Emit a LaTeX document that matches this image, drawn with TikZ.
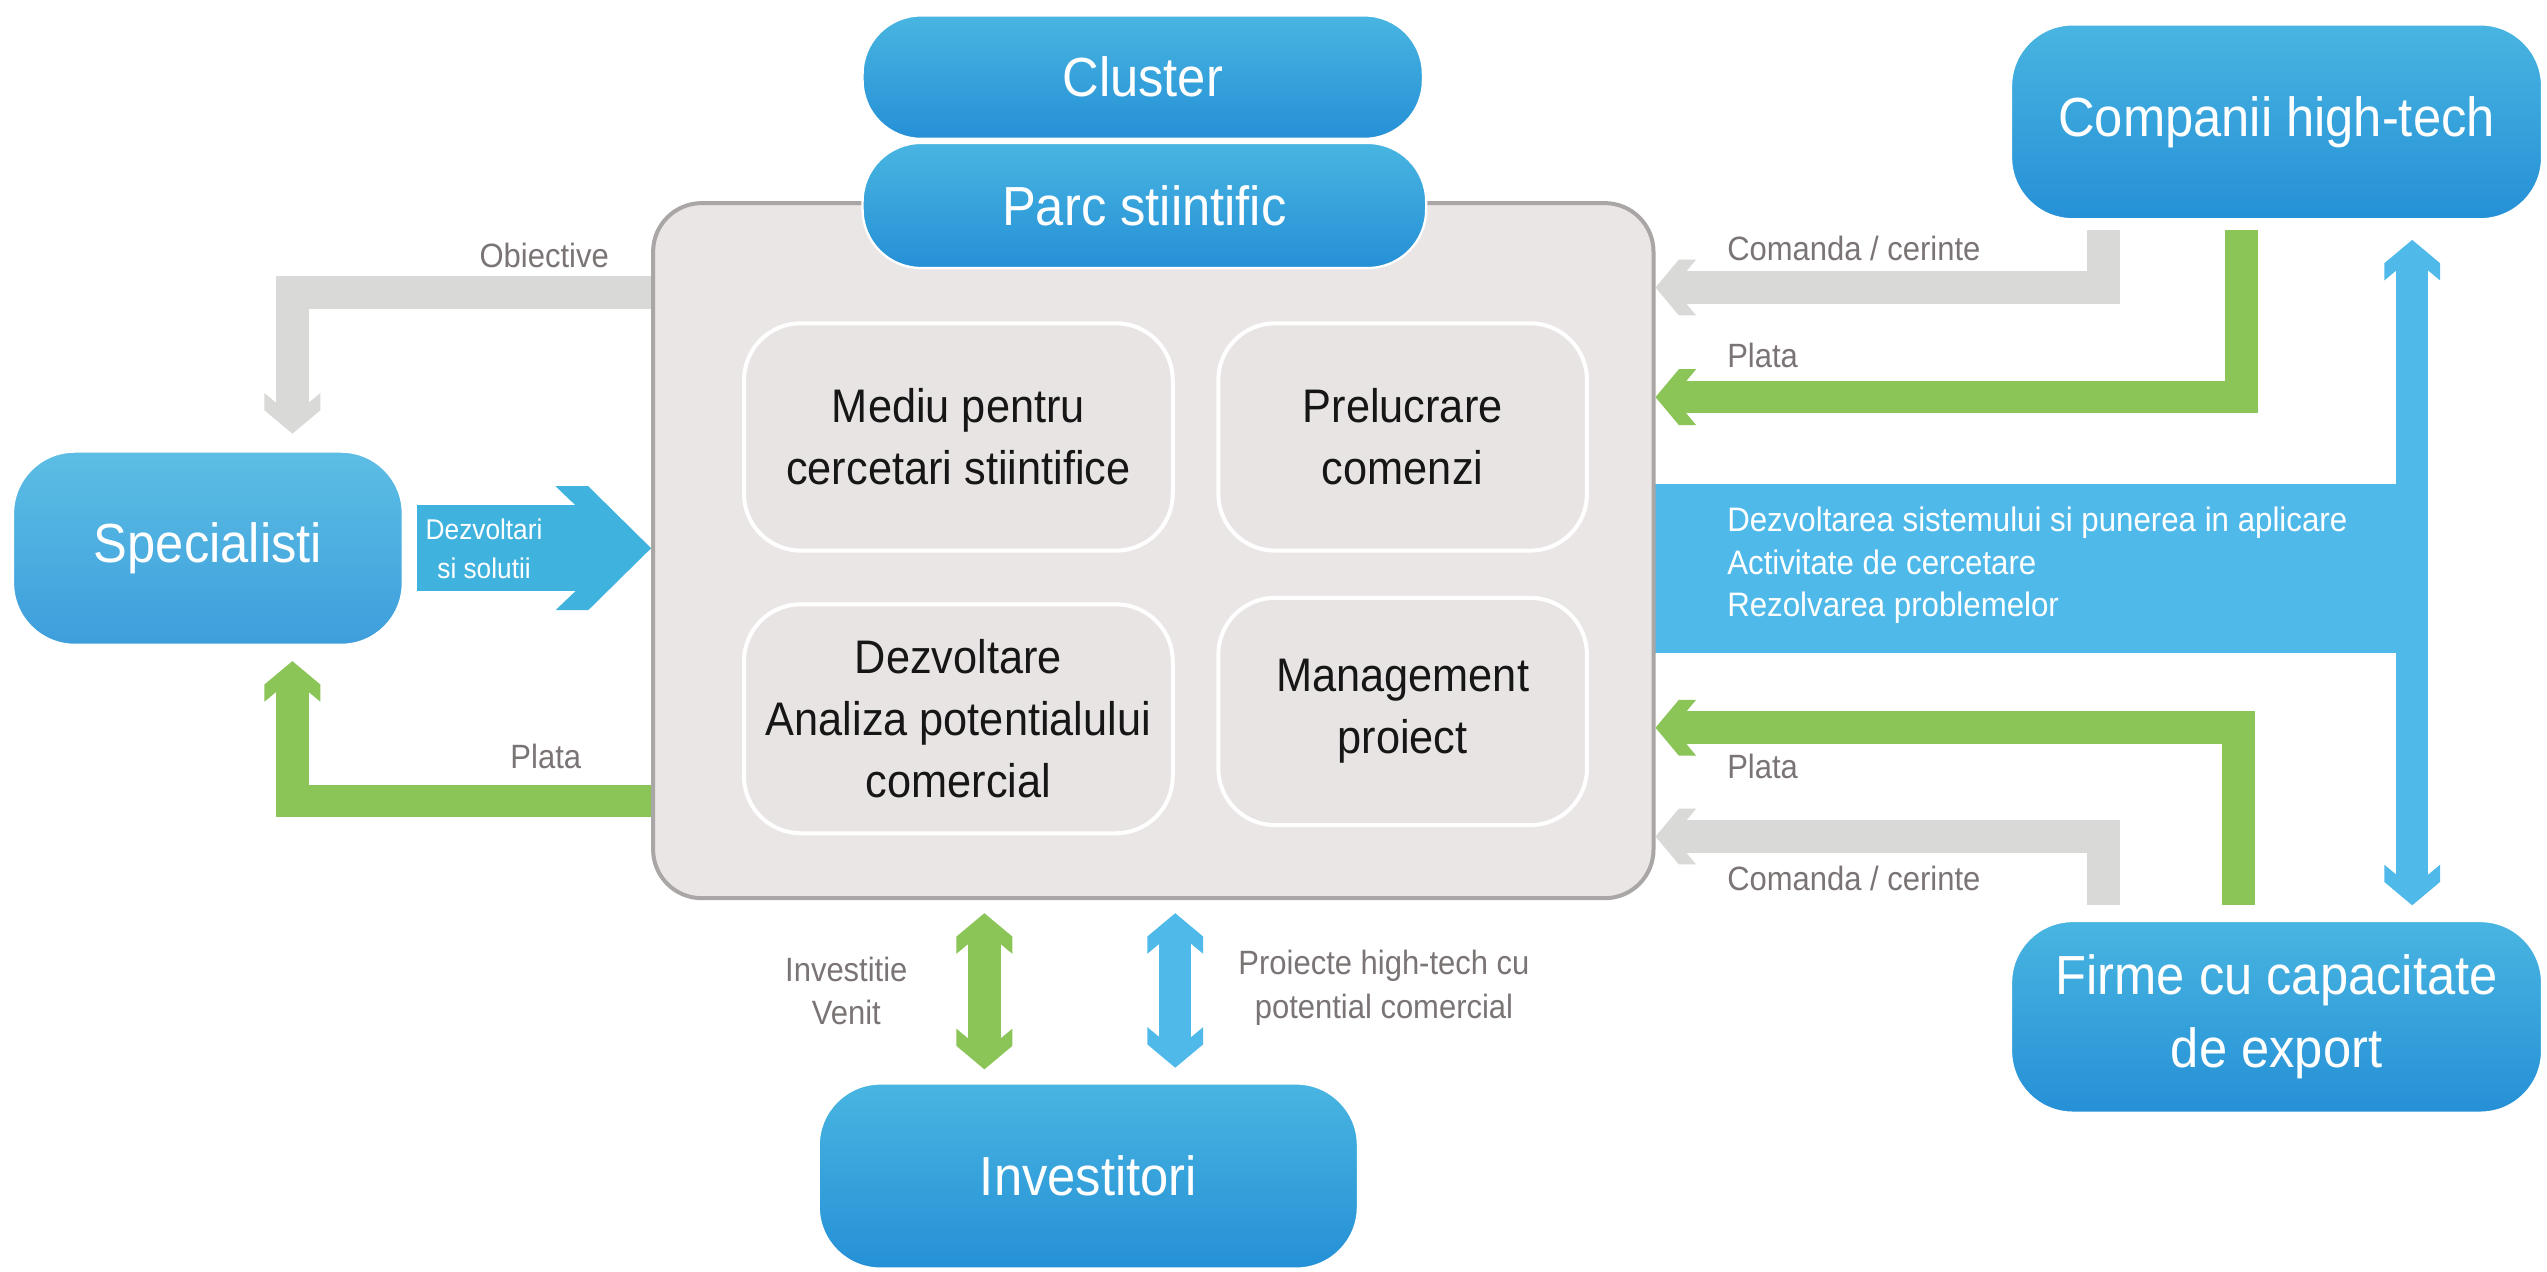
\documentclass[tikz,border=0pt]{standalone}
\usepackage{fontspec}
\setmainfont{Liberation Sans}[FakeStretch=0.92]
\usetikzlibrary{backgrounds}

\definecolor{boxtop}{HTML}{48B5E1}
\definecolor{boxbot}{HTML}{2590D6}
\definecolor{spectop}{HTML}{5CBEE4}
\definecolor{specbot}{HTML}{3D9EDC}
\definecolor{panel}{HTML}{EAE6E5}
\definecolor{paneledge}{HTML}{A9A6A5}
\definecolor{cellfill}{HTML}{E8E4E3}
\definecolor{arrgray}{HTML}{D9D9D7}
\definecolor{arrgreen}{HTML}{8BC457}
\definecolor{arrblue}{HTML}{4FB9EA}
\definecolor{solblue}{HTML}{40B2DE}
\definecolor{lblgray}{HTML}{7A7574}
\definecolor{celltext}{HTML}{161616}

\newcommand\fbig{\fontsize{19.3pt}{25.5pt}\selectfont}
\newcommand\fcell{\fontsize{16.5pt}{21.8pt}\selectfont}
\newcommand\flabel{\fontsize{11.8pt}{15.3pt}\selectfont}
\newcommand\fband{\fontsize{11.9pt}{15pt}\selectfont}
\newcommand\fsmall{\fontsize{10pt}{13.6pt}\selectfont}

% arrow head with swept-back barbs, sized from the line width
\pgfdeclarearrow{
  name = Barb,
  setup code = {
    \pgfarrowssettipend{0pt}
    \pgfarrowssetlineend{-0.9\pgflinewidth}
    \pgfarrowssetbackend{-1.25\pgflinewidth}
    \pgfarrowssetvisualbackend{-0.95\pgflinewidth}
    \pgfarrowssavethe\pgflinewidth
  },
  drawing code = {
    \pgfpathmoveto{\pgfqpoint{0pt}{0pt}}
    \pgfpathlineto{\pgfqpoint{-0.72\pgflinewidth}{0.86\pgflinewidth}}
    \pgfpathlineto{\pgfqpoint{-1.25\pgflinewidth}{0.86\pgflinewidth}}
    \pgfpathlineto{\pgfqpoint{-0.95\pgflinewidth}{0.5\pgflinewidth}}
    \pgfpathlineto{\pgfqpoint{-0.95\pgflinewidth}{-0.5\pgflinewidth}}
    \pgfpathlineto{\pgfqpoint{-1.25\pgflinewidth}{-0.86\pgflinewidth}}
    \pgfpathlineto{\pgfqpoint{-0.72\pgflinewidth}{-0.86\pgflinewidth}}
    \pgfpathclose
    \pgfusepathqfill
  }
}
% broad variant for the wide block arrow
\pgfdeclarearrow{
  name = BarbWide,
  setup code = {
    \pgfarrowssettipend{0pt}
    \pgfarrowssetlineend{-0.83\pgflinewidth}
    \pgfarrowssetbackend{-1.11\pgflinewidth}
    \pgfarrowssetvisualbackend{-0.88\pgflinewidth}
    \pgfarrowssavethe\pgflinewidth
  },
  drawing code = {
    \pgfpathmoveto{\pgfqpoint{0pt}{0pt}}
    \pgfpathlineto{\pgfqpoint{-0.73\pgflinewidth}{0.72\pgflinewidth}}
    \pgfpathlineto{\pgfqpoint{-1.11\pgflinewidth}{0.72\pgflinewidth}}
    \pgfpathlineto{\pgfqpoint{-0.88\pgflinewidth}{0.5\pgflinewidth}}
    \pgfpathlineto{\pgfqpoint{-0.88\pgflinewidth}{-0.5\pgflinewidth}}
    \pgfpathlineto{\pgfqpoint{-1.11\pgflinewidth}{-0.72\pgflinewidth}}
    \pgfpathlineto{\pgfqpoint{-0.73\pgflinewidth}{-0.72\pgflinewidth}}
    \pgfpathclose
    \pgfusepathqfill
  }
}

\tikzset{
  bluebox/.style={rounded corners=0.76cm, top color=boxtop, bottom color=boxbot,
    draw=white, line width=0.8pt, text=white, font=\fbig, align=center, inner sep=0pt},
  pill/.style={bluebox, rounded corners=0.72cm},
  specbox/.style={bluebox, top color=spectop, bottom color=specbot},
  panelbox/.style={draw=paneledge, fill=panel, line width=1.4pt, rounded corners=0.6cm, inner sep=0pt},
  cell/.style={draw=white, fill=cellfill, line width=1.4pt, rounded corners=0.7cm,
    text=celltext, font=\fcell, align=center, inner sep=0pt},
  lbl/.style={text=lblgray, font=\flabel, inner sep=0pt, align=center},
  flow/.style={line width=0.4cm, line join=miter, -{Barb}},
  grayflow/.style={flow, color=arrgray},
  greenflow/.style={flow, color=arrgreen},
  blueflow/.style={flow, color=arrblue},
}

\begin{document}
\begin{tikzpicture}[x=0.02cm, y=-0.02cm]
\useasboundingbox (0,0) rectangle (1568,783);

% central panel with its four activity cells
\node[panelbox, minimum width=12.32cm, minimum height=8.56cm] (main) at (710,339) {};
\node[cell, minimum width=5.28cm, minimum height=2.8cm] (mediu) at (590,269)
  {Mediu pentru\\cercetari stiintifice};
\node[cell, minimum width=4.54cm, minimum height=2.8cm] (prel) at (863.5,269)
  {Prelucrare\\comenzi};
\node[cell, minimum width=5.28cm, minimum height=2.82cm] (dezv) at (590,442.5)
  {Dezvoltare\\Analiza potentialului\\comercial};
\node[cell, minimum width=4.54cm, minimum height=2.8cm] (mgmt) at (863.5,438)
  {Management\\proiect};

% title pills
\node[pill, minimum width=6.9cm, minimum height=1.52cm] (cluster) at (703.5,47.5) {Cluster};
\node[pill, minimum width=6.94cm, minimum height=1.54cm] (parc) at (704.5,126.5) {Parc stiintific};

% partner boxes
\node[specbox, minimum width=4.8cm, minimum height=2.38cm] (spec) at (128,337.5) {Specialisti};
\node[bluebox, minimum width=6.54cm, minimum height=2.4cm] (comp) at (1401.5,75) {Companii high-tech};
\node[bluebox, minimum width=6.54cm, minimum height=2.36cm] (firme) at (1401.5,626)
  {Firme cu capacitate\\de export};
\node[bluebox, minimum width=6.64cm, minimum height=2.28cm] (invest) at (670,724) {Investitori};

% reference rows and columns for the connectors
\coordinate (rowObj) at (0,180);
\coordinate (rowPayL) at (0,493);
\coordinate (rowOrdT) at (0,177);
\coordinate (rowPayT) at (0,244.5);
\coordinate (rowPayB) at (0,448);
\coordinate (rowOrdB) at (0,515);
\coordinate (colSpec) at (180,0);
\coordinate (colOrd) at (1295,0);
\coordinate (colPayT) at (1380,0);
\coordinate (colPayB) at (1378,0);
\coordinate (colHub) at (1485,0);
\coordinate (colInvG) at (606,0);
\coordinate (colInvB) at (723.5,0);
\coordinate (objTip) at (180,267);
\coordinate (payTip) at (180,407);

\begin{scope}[on background layer]
  \fill[white] (0,0) rectangle (1568,783);

  % left side
  \draw[grayflow] (main.west |- rowObj) -| (objTip);
  \draw[greenflow] (main.west |- rowPayL) -| (payTip);
  \draw[line width=1.06cm, color=solblue, -{BarbWide}, shorten <=0.16cm]
    (spec.east) -- (spec.east -| main.west);

  % right side
  \node[fill=arrblue, minimum width=9.54cm, minimum height=2.08cm, inner sep=0pt] (band) at (1256.5,350) {};
  \draw[grayflow, shorten <=0.12cm] (comp.south -| colOrd) |- (main.east |- rowOrdT);
  \draw[greenflow, shorten <=0.12cm] (comp.south -| colPayT) |- (main.east |- rowPayT);
  \draw[greenflow, shorten <=0.18cm] (firme.north -| colPayB) |- (main.east |- rowPayB);
  \draw[grayflow, shorten <=0.18cm] (firme.north -| colOrd) |- (main.east |- rowOrdB);
  \draw[blueflow, {Barb}-{Barb}, shorten <=0.24cm, shorten >=0.18cm]
    (comp.south -| colHub) -- (firme.north -| colHub);

  % towards the investors
  \draw[greenflow, {Barb}-{Barb}, shorten <=0.16cm, shorten >=0.16cm]
    (main.south -| colInvG) -- (invest.north -| colInvG);
  \draw[blueflow, {Barb}-{Barb}, shorten <=0.16cm, shorten >=0.18cm]
    (main.south -| colInvB) -- (invest.north -| colInvB);
\end{scope}

% texts along the flows
\node[text=white, font=\fsmall, align=center, inner sep=0pt] (soltxt) at (298,338) {Dezvoltari\\si solutii};
\node[lbl] (lobj) at (335,157) {Obiective};
\node[lbl] (lpayl) at (336,466) {Plata};
\node[lbl, anchor=west] (lordt) at (1063,153) {Comanda / cerinte};
\node[lbl, anchor=west] (lpayt) at (1063,219) {Plata};
\node[lbl, anchor=west] (lpayb) at (1063,472) {Plata};
\node[lbl, anchor=west] (lordb) at (1063,541) {Comanda / cerinte};
\node[lbl] (linv) at (521,610) {Investitie\\Venit};
\node[lbl] (lproj) at (852,608) {Proiecte high-tech cu\\potential comercial};
\node[text=white, font=\fband, align=left, inner sep=0pt, anchor=west] (bandtxt) at (1063,348)
  {Dezvoltarea sistemului si punerea in aplicare\\Activitate de cercetare\\Rezolvarea problemelor};
\end{tikzpicture}
\end{document}
